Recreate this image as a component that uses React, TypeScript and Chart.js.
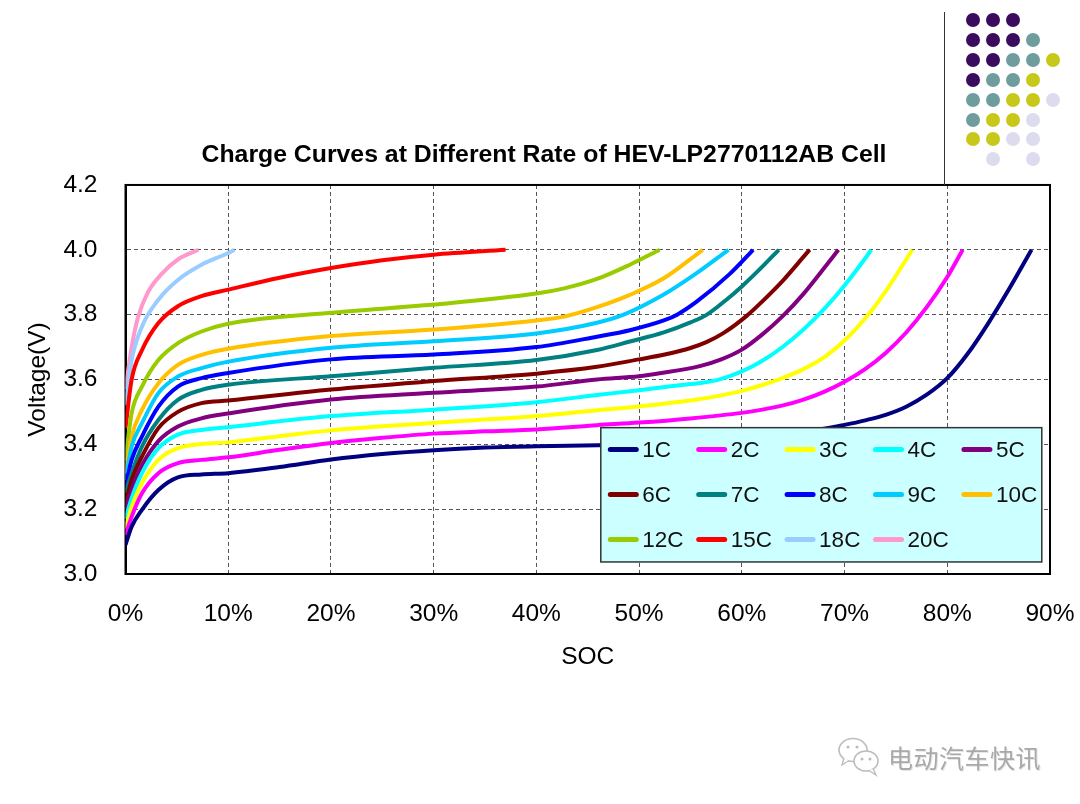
import React, { useEffect, useRef } from "react";
import { Chart, registerables } from "chart.js";

Chart.register(...registerables);

const FONT = "'Liberation Sans', Arial, Helvetica, sans-serif";

const chartTitle = "Charge Curves at Different Rate of HEV-LP2770112AB Cell";
const xTitle = "SOC";
const yTitle = "Voltage(V)";
const xTickValues = [0, 10, 20, 30, 40, 50, 60, 70, 80, 90];
const yTickValues = [3.0, 3.2, 3.4, 3.6, 3.8, 4.0, 4.2];

const rateLabels = ["1C", "2C", "3C", "4C", "5C", "6C", "7C", "8C", "9C", "10C", "12C", "15C", "18C", "20C"];
const rateColors = [
  "#000080", "#ff00ff", "#ffff00", "#00ffff", "#800080",
  "#800000", "#008080", "#0000ff", "#00ccff", "#ffc000",
  "#99cc00", "#ff0000", "#99ccff", "#ff99cc",
];

const soc1C = [0, 0.6, 1.6, 3.2, 5.1, 7.4, 10, 15, 20, 25, 30, 35, 40, 46, 50, 55, 60, 65, 68, 70, 72, 74, 76, 78, 80, 82, 84, 86, 88.2];
const v1C = [3.09, 3.146, 3.198, 3.259, 3.298, 3.307, 3.311, 3.33, 3.353, 3.37, 3.382, 3.39, 3.394, 3.397, 3.4, 3.406, 3.415, 3.432, 3.448, 3.46, 3.474, 3.491, 3.516, 3.553, 3.604, 3.68, 3.774, 3.878, 4.0];

const soc2C = [0, 0.6, 1.6, 3.2, 5.1, 7.4, 10, 15, 20, 25, 30, 35, 40, 45.9, 50, 55, 60, 62, 64, 66, 68, 70, 72, 74, 76, 78, 80, 81.5];
const v2C = [3.12, 3.177, 3.249, 3.311, 3.342, 3.352, 3.36, 3.383, 3.404, 3.42, 3.433, 3.44, 3.446, 3.459, 3.467, 3.48, 3.497, 3.507, 3.52, 3.538, 3.562, 3.593, 3.632, 3.682, 3.745, 3.823, 3.916, 4.0];

const soc3C = [0, 0.6, 1.6, 3.2, 5.1, 7.4, 10, 15, 20, 30, 40, 45.9, 50, 55, 58, 60, 62, 64, 66, 68, 70, 72, 74, 76, 76.6];
const v3C = [3.14, 3.208, 3.28, 3.352, 3.388, 3.401, 3.406, 3.425, 3.443, 3.466, 3.487, 3.505, 3.517, 3.535, 3.551, 3.565, 3.583, 3.605, 3.632, 3.668, 3.72, 3.788, 3.872, 3.97, 4.0];

const soc4C = [0, 0.6, 1.6, 3.2, 5.1, 7.4, 10, 20, 30, 40, 45.9, 50, 55, 56, 58, 60, 62, 64, 66, 68, 70, 72, 72.6];
const v4C = [3.17, 3.234, 3.311, 3.388, 3.43, 3.444, 3.453, 3.487, 3.507, 3.53, 3.552, 3.567, 3.586, 3.589, 3.602, 3.625, 3.658, 3.701, 3.754, 3.817, 3.89, 3.973, 4.0];

const soc5C = [0, 0.6, 1.6, 3.2, 5.1, 7.4, 10, 20, 30, 40, 45.9, 50, 52, 56, 58, 60, 62, 64, 66, 68, 69.4];
const v5C = [3.2, 3.26, 3.335, 3.41, 3.455, 3.48, 3.495, 3.538, 3.559, 3.578, 3.6, 3.61, 3.619, 3.642, 3.662, 3.692, 3.739, 3.796, 3.864, 3.943, 4.0];

const soc6C = [0, 0.6, 1.6, 3.2, 5.1, 7.4, 10, 20, 30, 40, 45.9, 50, 52.5, 55, 56.6, 58.2, 60.5, 62, 64, 66, 66.6];
const v6C = [3.22, 3.29, 3.362, 3.45, 3.5, 3.527, 3.535, 3.569, 3.595, 3.618, 3.639, 3.662, 3.677, 3.697, 3.716, 3.743, 3.797, 3.841, 3.905, 3.978, 4.0];

const soc7C = [0, 0.6, 1.6, 3.2, 5.1, 7.4, 10, 20, 30, 40, 45.9, 49.1, 52.4, 55, 56.6, 58.5, 60, 62, 63.6];
const v7C = [3.25, 3.311, 3.393, 3.475, 3.537, 3.568, 3.584, 3.61, 3.636, 3.66, 3.691, 3.717, 3.745, 3.776, 3.8, 3.846, 3.887, 3.948, 4.0];

const soc8C = [0, 0.6, 1.6, 3.2, 5.1, 7.4, 10, 20, 30, 40, 45.9, 49.1, 52.4, 53.7, 55.6, 58.8, 61.1];
const v8C = [3.27, 3.352, 3.424, 3.516, 3.578, 3.604, 3.62, 3.662, 3.677, 3.7, 3.732, 3.752, 3.782, 3.8, 3.84, 3.925, 4.0];

const soc9C = [0, 0.6, 1.6, 3.2, 5.1, 7.4, 10, 20, 30, 40, 45.9, 48.5, 52.4, 55.6, 58.7];
const v9C = [3.29, 3.393, 3.465, 3.558, 3.609, 3.635, 3.655, 3.698, 3.718, 3.742, 3.775, 3.8, 3.862, 3.928, 4.0];

const soc10C = [0, 0.6, 1.6, 3.2, 5.1, 7.4, 10, 20, 30, 40, 42.7, 45.9, 49.1, 52.4, 56.2];
const v10C = [3.31, 3.424, 3.506, 3.588, 3.645, 3.676, 3.695, 3.734, 3.754, 3.782, 3.794, 3.823, 3.861, 3.912, 4.0];

const soc12C = [0, 0.6, 1.6, 3.2, 5.1, 7.4, 10, 20, 30, 40, 42.7, 45.9, 49.1, 52];
const v12C = [3.35, 3.496, 3.578, 3.66, 3.712, 3.748, 3.772, 3.806, 3.831, 3.865, 3.881, 3.91, 3.954, 4.0];

const soc15C = [0, 0.6, 1.6, 3.2, 5.1, 7.4, 10, 15, 20, 25, 30, 37];
const v15C = [3.45, 3.6, 3.69, 3.774, 3.826, 3.857, 3.877, 3.914, 3.944, 3.968, 3.985, 4.0];

const soc18C = [0, 0.6, 1.6, 3.2, 5.1, 7.4, 10, 10.6];
const v18C = [3.52, 3.66, 3.763, 3.846, 3.907, 3.954, 3.99, 4.0];

const soc20C = [0, 0.6, 1.2, 2.2, 3.5, 5.1, 7.1];
const v20C = [3.57, 3.7, 3.79, 3.87, 3.925, 3.97, 4.0];

const socSeries = [soc1C, soc2C, soc3C, soc4C, soc5C, soc6C, soc7C, soc8C, soc9C, soc10C, soc12C, soc15C, soc18C, soc20C];
const voltSeries = [v1C, v2C, v3C, v4C, v5C, v6C, v7C, v8C, v9C, v10C, v12C, v15C, v18C, v20C];

// decorative dot pattern (top-right slide ornament)
const dotRows = ["PPP..", "PPPT.", "PPTTY", "PTTY.", "TTYYL", "TYYL.", "YYLL.", ".L.L."];
const dotColors: Record<string, string> = { P: "#3b0b5e", T: "#6f9d9d", Y: "#c8c81a", L: "#dcdcee" };

const framePlugin = {
  id: "frame",
  beforeDatasetsDraw(chart: any) {
    const { ctx, chartArea } = chart;
    ctx.save();
    ctx.strokeStyle = "#000";
    ctx.lineWidth = 2;
    ctx.strokeRect(chartArea.left, chartArea.top, chartArea.right - chartArea.left, chartArea.bottom - chartArea.top);
    ctx.restore();
  },
};

const boxLegendPlugin = {
  id: "boxLegend",
  afterDatasetsDraw(chart: any) {
    const { ctx, chartArea } = chart;
    const left = chartArea.left + 475.3;
    const top = chartArea.top + 242.7;
    const w = 441;
    const h = 134.3;
    ctx.save();
    ctx.fillStyle = "#ccffff";
    ctx.fillRect(left, top, w, h);
    ctx.strokeStyle = "#333";
    ctx.lineWidth = 1.5;
    ctx.strokeRect(left, top, w, h);
    ctx.font = `22.5px ${FONT}`;
    ctx.textBaseline = "middle";
    ctx.textAlign = "left";
    chart.data.datasets.forEach((ds: any, i: number) => {
      const col = i % 5;
      const row = Math.floor(i / 5);
      const x = left + 7.5 + col * 88.4;
      const y = top + 21.8 + row * 45;
      ctx.strokeStyle = ds.borderColor;
      ctx.lineWidth = 5;
      ctx.lineCap = "round";
      ctx.beginPath();
      ctx.moveTo(x + 2, y);
      ctx.lineTo(x + 28, y);
      ctx.stroke();
      ctx.fillStyle = "#111";
      ctx.fillText(ds.label, x + 34, y + 1);
    });
    ctx.restore();
  },
};

function ChargeChart() {
  const ref = useRef<HTMLCanvasElement | null>(null);
  useEffect(() => {
    if (!ref.current) return;
    const datasets = rateLabels.map((label, i) => ({
      label,
      data: socSeries[i].map((s, k) => ({ x: s, y: voltSeries[i][k] })),
      borderColor: rateColors[i],
      backgroundColor: rateColors[i],
      borderWidth: 4,
      pointRadius: 0,
      fill: false,
      cubicInterpolationMode: "monotone" as const,
    }));
    const chart = new Chart(ref.current, {
      type: "line",
      data: { datasets },
      plugins: [framePlugin, boxLegendPlugin],
      options: {
        animation: false,
        responsive: false,
        events: [],
        layout: { padding: { top: 130, left: 38, right: 30, bottom: 0 } },
        plugins: {
          legend: { display: false },
          tooltip: { enabled: false },
          title: {
            display: true,
            text: chartTitle,
            color: "#000",
            font: { family: FONT, size: 24.8, weight: "bold" },
            padding: { top: 10.1, bottom: 15.1 },
          },
        },
        scales: {
          x: {
            type: "linear",
            min: 0,
            max: 90,
            afterBuildTicks: (scale: any) => {
              scale.ticks = xTickValues.map((v) => ({ value: v }));
            },
            afterFit: (scale: any) => {
              scale.height = 230;
              scale.paddingLeft = 0;
              scale.paddingRight = 0;
            },
            ticks: {
              color: "#000",
              font: { family: FONT, size: 24.5 },
              padding: 25.3,
              maxRotation: 0,
              callback: (v: any) => `${v}%`,
            },
            grid: { color: "#555", lineWidth: 1, drawTicks: false },
            border: { display: true, color: "#000", width: 2, dash: [4, 3] },
            title: {
              display: true,
              text: xTitle,
              color: "#000",
              font: { family: FONT, size: 24.5 },
              padding: { top: 0, bottom: 132.3 },
            },
          },
          y: {
            type: "linear",
            min: 3.0,
            max: 4.2,
            afterBuildTicks: (scale: any) => {
              scale.ticks = yTickValues.map((v) => ({ value: v }));
            },
            afterFit: (scale: any) => {
              scale.width = 87.5;
            },
            ticks: {
              color: "#000",
              font: { family: FONT, size: 24.5 },
              padding: 28,
              callback: (v: any) => Number(v).toFixed(1),
            },
            grid: { color: "#555", lineWidth: 1, drawTicks: false },
            border: { display: true, color: "#000", width: 2, dash: [4, 3] },
            title: {
              display: true,
              text: yTitle,
              color: "#000",
              font: { family: FONT, size: 24.5 },
              padding: { top: -14.2, bottom: 0 },
            },
          },
        },
      },
    } as any);
    return () => chart.destroy();
  }, []);
  return <canvas ref={ref} width={1080} height={804} style={{ position: "absolute", left: 0, top: 0 }} />;
}

function Decorations() {
  const dots: React.ReactNode[] = [];
  dotRows.forEach((row, r) => {
    row.split("").forEach((c, k) => {
      if (c === ".") return;
      dots.push(
        <div
          key={`${r}-${k}`}
          style={{
            position: "absolute",
            left: 973 + k * 20 - 7,
            top: 20 + r * 19.9 - 7,
            width: 14,
            height: 14,
            borderRadius: "50%",
            background: dotColors[c],
          }}
        />
      );
    });
  });
  return (
    <>
      <div style={{ position: "absolute", left: 944, top: 12, width: 1, height: 173, background: "#333" }} />
      {dots}
      <svg style={{ position: "absolute", left: 836, top: 735 }} width={50} height={45} viewBox="0 0 50 45">
        <ellipse cx={17} cy={15} rx={14} ry={11.5} fill="#fff" stroke="#bdbdbd" strokeWidth={1.6} />
        <path d="M8 23 L6 30 L13 25.5" fill="#fff" stroke="#bdbdbd" strokeWidth={1.4} />
        <circle cx={12} cy={12} r={1.6} fill="#bdbdbd" />
        <circle cx={21} cy={12} r={1.6} fill="#bdbdbd" />
        <ellipse cx={30} cy={26} rx={12} ry={10} fill="#fff" stroke="#bdbdbd" strokeWidth={1.6} />
        <path d="M37 33.5 L40 40 L33 35.5" fill="#fff" stroke="#bdbdbd" strokeWidth={1.4} />
        <circle cx={26} cy={24} r={1.5} fill="#bdbdbd" />
        <circle cx={34} cy={24} r={1.5} fill="#bdbdbd" />
      </svg>
      <div
        style={{
          position: "absolute",
          left: 888,
          top: 740,
          fontFamily: "'Noto Sans CJK SC', sans-serif",
          fontSize: 25,
          lineHeight: "34px",
          color: "#a9a9a9",
          textShadow: "1px 1px 0 #e6e6e6",
          letterSpacing: 0.5,
          whiteSpace: "nowrap",
        }}
      >
        电动汽车快讯
      </div>
    </>
  );
}

export default function App() {
  return (
    <div style={{ position: "absolute", left: 0, top: 0, width: 1080, height: 804, background: "#fff", overflow: "hidden" }}>
      <ChargeChart />
      <Decorations />
    </div>
  );
}
